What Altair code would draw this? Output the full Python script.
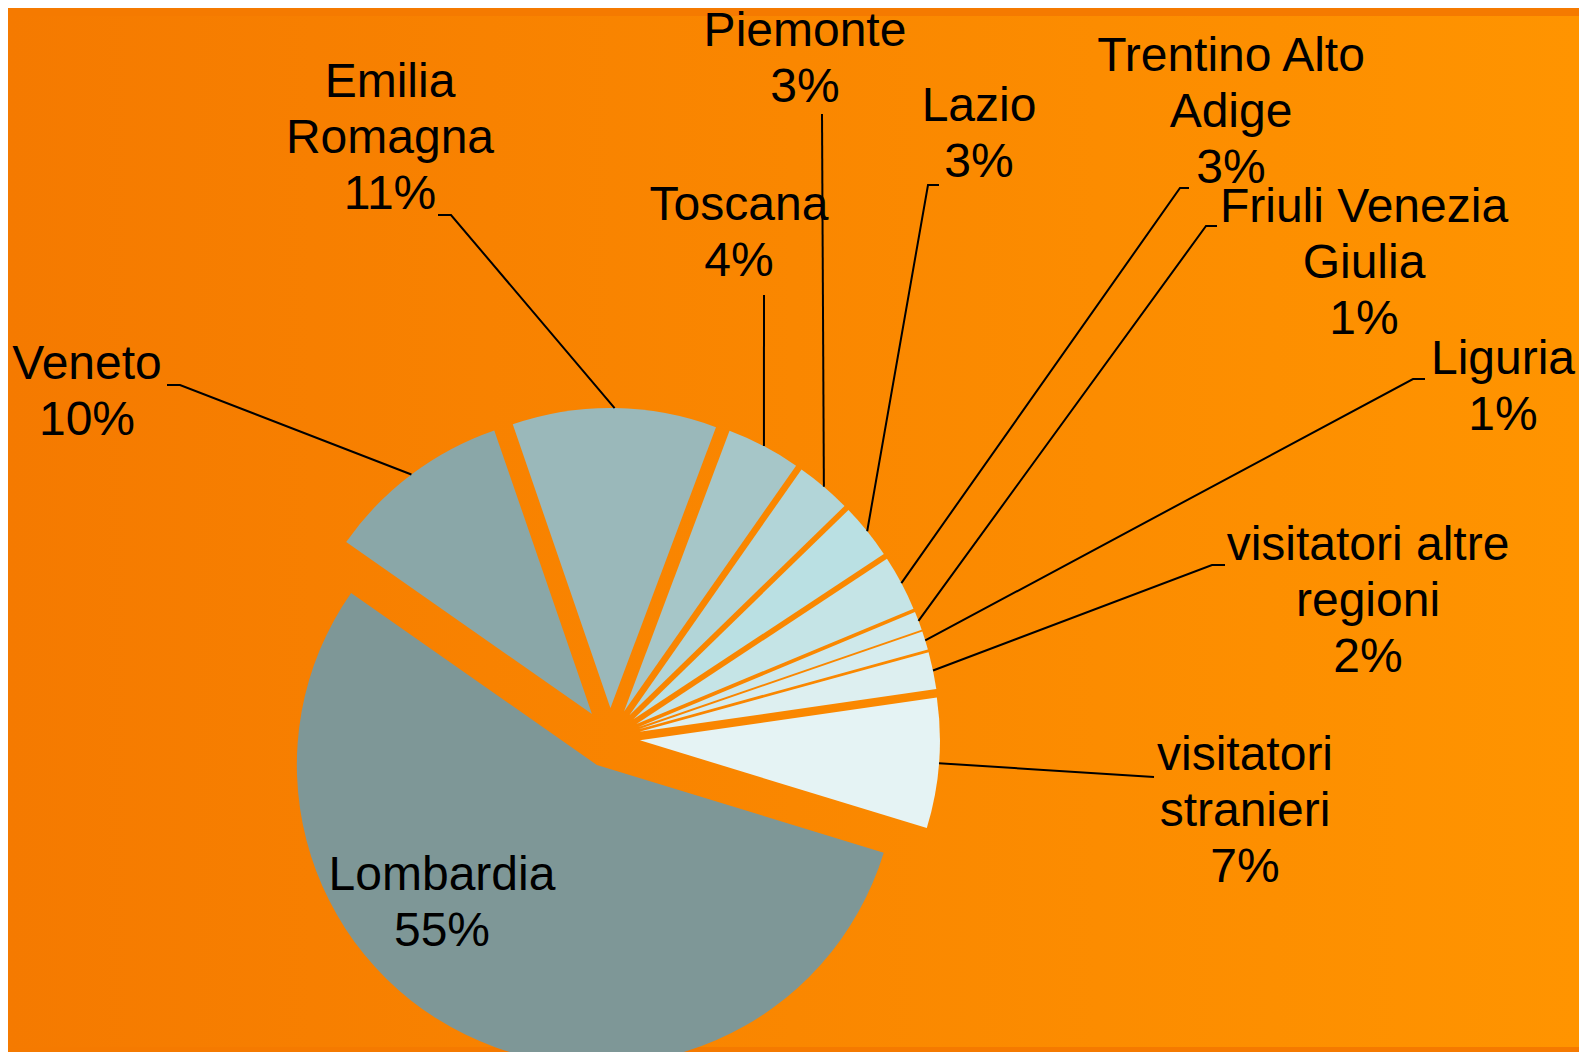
import math
import altair as alt
import pandas as pd

# ---------------- data ----------------
categories = ["Lombardia", "Veneto", "Emilia Romagna", "Toscana", "Piemonte", "Lazio",
              "Trentino Alto Adige", "Friuli Venezia Giulia", "Liguria",
              "visitatori altre regioni", "visitatori stranieri"]
shares = [55, 10, 11, 4, 3, 3, 3, 1, 1, 2, 7]
label_names = ["Lombardia", "Veneto", "Emilia\nRomagna", "Toscana", "Piemonte", "Lazio",
               "Trentino Alto\nAdige", "Friuli Venezia\nGiulia", "Liguria",
               "visitatori altre\nregioni", "visitatori\nstranieri"]

# ---------------- style / layout ----------------
W, H = 1571, 1044
CX, CY = 602, 722          # pie centre before explosion (chart px)
R = 300                    # pie radius
EXPLODE = 30               # explosion of every slice
START_DEG = 107            # angle of first slice edge (clockwise from 12 o'clock)
FONT = "Liberation Sans"
FS = 48
LH = 56
slice_colors = ["#7E9797", "#8AA7A8", "#9AB8BA", "#A6C6C8", "#B2D5D8", "#BAE0E3",
                "#C5E4E6", "#CEE8EA", "#D6ECEE", "#DDEFF0", "#E5F3F4"]
# centre of the first line of each label (chart px)
label_pos = {
    "Lombardia": (434, 860),
    "Veneto": (79, 349),
    "Emilia Romagna": (382, 67),
    "Toscana": (731, 190),
    "Piemonte": (797, 16),
    "Lazio": (971, 91),
    "Trentino Alto Adige": (1223, 41),
    "Friuli Venezia Giulia": (1356, 192),
    "Liguria": (1495, 344),
    "visitatori altre regioni": (1360, 530),
    "visitatori stranieri": (1237, 740),
}
leader_start = {
    "Veneto": [(159, 369), (172, 369)],
    "Emilia Romagna": [(430, 199), (443, 199)],
    "Toscana": [(756, 279)],
    "Piemonte": [(814, 98)],
    "Lazio": [(931, 169), (920, 169)],
    "Trentino Alto Adige": [(1181, 172), (1172, 172)],
    "Friuli Venezia Giulia": [(1209, 210), (1198, 210)],
    "Liguria": [(1417, 363), (1405, 363)],
    "visitatori altre regioni": [(1217, 549), (1204, 549)],
    "visitatori stranieri": [(1146, 761)],
}

total = sum(shares)
start = math.radians(START_DEG)

# ---------------- background ----------------
bg = alt.Chart(pd.DataFrame({"k": [0]})).mark_rect(
    color=alt.LinearGradient(
        gradient="linear",
        stops=[alt.GradientStop(color="#F57A00", offset=0),
               alt.GradientStop(color="#FF9400", offset=1)],
        x1=0, x2=1, y1=0, y2=0,
    )
).encode(x=alt.value(0), x2=alt.value("width"), y=alt.value(0), y2=alt.value("height"))

# ---------------- pie ----------------
pie_df = pd.DataFrame({"cat": categories, "value": shares, "idx": list(range(len(categories)))})
pie = alt.Chart(pie_df).transform_window(
    cum="sum(value)", sort=[alt.SortField("idx", order="ascending")], frame=[None, 0]
).transform_joinaggregate(
    total="sum(value)"
).transform_calculate(
    t0=f"{start} + 2*PI*(datum.cum - datum.value)/datum.total",
    t1=f"{start} + 2*PI*datum.cum/datum.total",
).transform_calculate(
    mid="(datum.t0 + datum.t1)/2"
).transform_calculate(
    ox=f"{CX} + {EXPLODE}*sin(datum.mid)",
    oy=f"{CY} - {EXPLODE}*cos(datum.mid)",
).mark_arc(radius=R).encode(
    x=alt.X("ox:Q", scale=None, axis=None, stack=False),
    y=alt.Y("oy:Q", scale=None, axis=None, stack=False),
    theta=alt.Theta("t0:Q", scale=None),
    theta2=alt.Theta2("t1:Q"),
    color=alt.Color("cat:N", scale=alt.Scale(domain=categories, range=slice_colors), legend=None),
)

# ---------------- leader lines ----------------
rows = []
cum = 0
for cat, v in zip(categories, shares):
    mid = start + 2 * math.pi * (cum + v / 2) / total
    cum += v
    if cat not in leader_start:
        continue
    pts = list(leader_start[cat])
    pts.append((CX + (EXPLODE + R) * math.sin(mid), CY - (EXPLODE + R) * math.cos(mid)))
    for i, (px, py) in enumerate(pts):
        rows.append({"cat": cat, "order": i, "lx": px, "ly": py})
lines = alt.Chart(pd.DataFrame(rows)).mark_line(color="black", strokeWidth=2).encode(
    x=alt.X("lx:Q", scale=None, axis=None),
    y=alt.Y("ly:Q", scale=None, axis=None),
    detail="cat:N",
    order="order:Q",
)

# ---------------- labels ----------------
lab_rows = []
for cat, name, v in zip(categories, label_names, shares):
    x, y = label_pos[cat]
    lab_rows.append({"cat": cat, "text": f"{name}\n{round(100 * v / total)}%", "tx": x, "ty": y})
labels = alt.Chart(pd.DataFrame(lab_rows)).mark_text(
    font=FONT, fontSize=FS, lineHeight=LH, align="center", baseline="middle",
    lineBreak="\n", color="black",
).encode(
    x=alt.X("tx:Q", scale=None, axis=None),
    y=alt.Y("ty:Q", scale=None, axis=None),
    text="text:N",
)

chart = alt.layer(bg, pie, lines, labels).properties(
    width=W, height=H,
    autosize=alt.AutoSizeParams(type="fit", contains="padding"),
    padding=0,
    background="#F57A00",
).configure_view(strokeWidth=0)

chart.save("out.html", embed_options={"renderer": "svg", "actions": False})
